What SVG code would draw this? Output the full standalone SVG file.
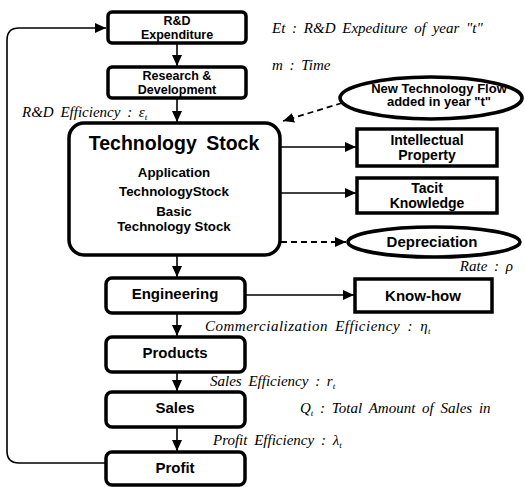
<svg xmlns="http://www.w3.org/2000/svg" width="525" height="487" viewBox="0 0 525 487">
<defs>
<marker id="ah" markerUnits="userSpaceOnUse" markerWidth="12" markerHeight="10" refX="11" refY="5" orient="auto">
<path d="M0,0 L11,5 L0,10 Z" fill="#000"/>
</marker>
<style>
.box{fill:#fff;stroke:#000;stroke-width:3.5}
.lbl{font-family:"Liberation Sans",Arial,sans-serif;font-weight:bold;fill:#000;text-anchor:middle}
.it{font-family:"Liberation Serif","Times New Roman",serif;font-style:italic;fill:#000;font-size:15px;word-spacing:3px}
.ln{fill:none;stroke:#000;stroke-width:1.6}
.dl{fill:none;stroke:#000;stroke-width:1.8;stroke-dasharray:6,4}
</style>
</defs>
<rect width="525" height="487" fill="#fff"/>

<g id="connectors">
<path class="ln" d="M177,43 V66" marker-end="url(#ah)"/>
<path class="ln" d="M177,98 V122" marker-end="url(#ah)"/>
<path class="ln" d="M177,255 V277" marker-end="url(#ah)"/>
<path class="ln" d="M177,313 V336" marker-end="url(#ah)"/>
<path class="ln" d="M177,372 V391" marker-end="url(#ah)"/>
<path class="ln" d="M177,427 V451" marker-end="url(#ah)"/>
<path class="ln" d="M281,147 H356" marker-end="url(#ah)"/>
<path class="ln" d="M281,193 H356" marker-end="url(#ah)"/>
<path class="ln" d="M245,295 H354" marker-end="url(#ah)"/>
<path class="dl" d="M281,242 H346" marker-end="url(#ah)"/>
<path class="dl" d="M342,103 L283,121" marker-end="url(#ah)"/>
<path class="ln" d="M105,463 H19 Q7,463 7,451 V40 Q7,28 19,28 H106" marker-end="url(#ah)"/>
</g>

<g id="rd-expenditure">
<rect class="box" x="108" y="12" width="138" height="31" rx="4"/>
<text class="lbl" x="177" y="25" font-size="12.5">R&amp;D</text>
<text class="lbl" x="177" y="38.5" font-size="12.5">Expenditure</text>
</g>

<g id="research-development">
<rect class="box" x="108" y="67" width="138" height="31" rx="4"/>
<text class="lbl" x="177" y="80" font-size="12.5">Research &amp;</text>
<text class="lbl" x="177" y="93.5" font-size="12.5">Development</text>
</g>

<g id="technology-stock">
<rect class="box" x="69" y="123" width="211" height="132" rx="15"/>
<text class="lbl" x="174" y="150" font-size="19.5" word-spacing="4">Technology Stock</text>
<text class="lbl" x="174" y="177" font-size="13.3">Application</text>
<text class="lbl" x="174" y="196" font-size="13.3">TechnologyStock</text>
<text class="lbl" x="174" y="216" font-size="13.3">Basic</text>
<text class="lbl" x="174" y="231" font-size="13.3">Technology Stock</text>
</g>

<g id="new-technology-flow">
<ellipse cx="431" cy="98" rx="91" ry="21" fill="#fff" stroke="#000" stroke-width="3.6"/>
<text class="lbl" x="439" y="92.5" font-size="13">New Technology Flow</text>
<text class="lbl" x="439" y="106" font-size="13">added in year "t"</text>
</g>

<g id="intellectual-property">
<rect class="box" x="357" y="129" width="140" height="37"/>
<text class="lbl" x="427" y="145" font-size="14">Intellectual</text>
<text class="lbl" x="427" y="160" font-size="14">Property</text>
</g>

<g id="tacit-knowledge">
<rect class="box" x="357" y="178" width="140" height="35"/>
<text class="lbl" x="427" y="193" font-size="14">Tacit</text>
<text class="lbl" x="427" y="208" font-size="14">Knowledge</text>
</g>

<g id="depreciation">
<ellipse cx="434" cy="242" rx="86" ry="15" fill="#fff" stroke="#000" stroke-width="3.6"/>
<text class="lbl" x="432" y="247" font-size="15">Depreciation</text>
</g>

<g id="engineering">
<rect class="box" x="106" y="278" width="139" height="35" rx="6"/>
<text class="lbl" x="175" y="299" font-size="15">Engineering</text>
</g>

<g id="know-how">
<rect class="box" x="355" y="279" width="137" height="33"/>
<text class="lbl" x="423" y="301" font-size="15">Know-how</text>
</g>

<g id="products">
<rect class="box" x="106" y="337" width="139" height="35" rx="6"/>
<text class="lbl" x="175" y="358" font-size="15">Products</text>
</g>

<g id="sales">
<rect class="box" x="106" y="392" width="139" height="35" rx="6"/>
<text class="lbl" x="175" y="413" font-size="15">Sales</text>
</g>

<g id="profit">
<rect class="box" x="106" y="452" width="139" height="33" rx="6"/>
<text class="lbl" x="175" y="473" font-size="15">Profit</text>
</g>

<g id="annotations">
<text class="it" x="272" y="33">Et : R&amp;D Expediture of year "t"</text>
<text class="it" x="272" y="70">m : Time</text>
<text class="it" x="22" y="117">R&amp;D Efficiency : ε<tspan font-size="9" dy="3">t</tspan></text>
<text class="it" x="513" y="271" text-anchor="end">Rate : ρ</text>
<text class="it" x="205" y="331" font-size="16" word-spacing="8" letter-spacing="0.5">Commercialization Efficiency : η<tspan font-size="9" dy="3">t</tspan></text>
<text class="it" x="210" y="386" word-spacing="5">Sales Efficiency : r<tspan font-size="9" dy="3">t</tspan></text>
<text class="it" x="300" y="413" word-spacing="4">Q<tspan font-size="9" dy="3">t</tspan><tspan dy="-3"> : Total Amount of Sales in</tspan></text>
<text class="it" x="213" y="445" word-spacing="5">Profit Efficiency : λ<tspan font-size="9" dy="3">t</tspan></text>
</g>
</svg>
